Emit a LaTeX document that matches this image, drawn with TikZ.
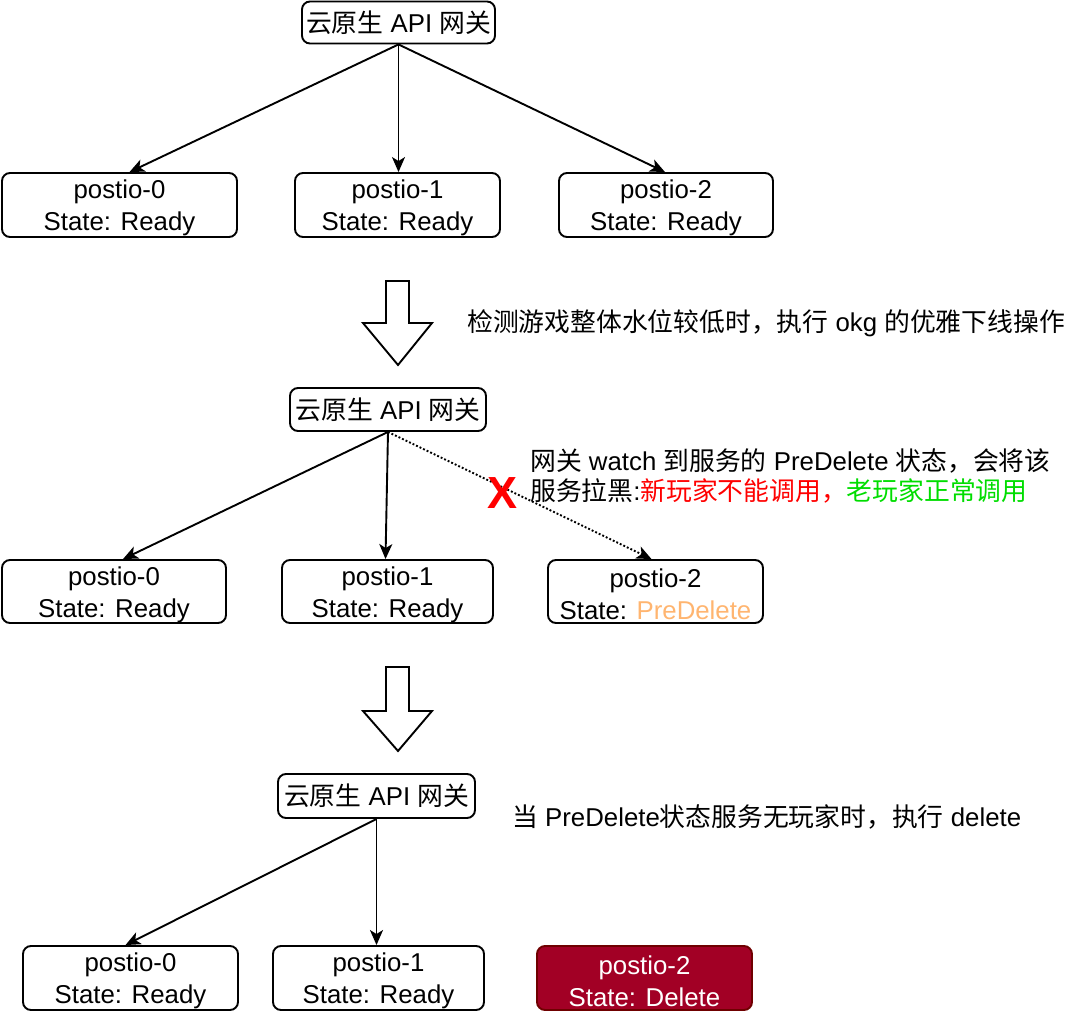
\documentclass[tikz,border=0pt]{standalone}
\usepackage{fontspec}
\setmainfont{Liberation Sans}
\newfontfamily\cjk{Noto Sans CJK SC}
\usetikzlibrary{arrows.meta,calc}
\definecolor{pdorange}{HTML}{FFB570}
\definecolor{okgreen}{HTML}{00DD00}
\definecolor{delfill}{HTML}{A20025}
\definecolor{delline}{HTML}{6F0000}
\newcommand{\up}{\rule{0pt}{25pt}}
\begin{document}
\begin{tikzpicture}[x=1pt,y=-1pt,
  every node/.style={font=\fontsize{25.8}{32}\selectfont},
  podbox/.style={draw, line width=1.9pt, rounded corners=8pt, inner sep=0pt, align=center, minimum height=64pt},
  gwbox/.style={draw, line width=1.9pt, rounded corners=8pt, inner sep=0pt, align=center, minimum height=42pt},
  conn/.style={line width=1.9pt, -{Stealth[length=15pt,width=13pt,inset=4pt]}},
  dotconn/.style={line width=1.9pt, dotted, -{Stealth[length=15pt,width=13pt,inset=4pt]}},
  bigarrow/.style={draw, line width=1.9pt, fill=white, line join=miter},
  note/.style={inner sep=0pt, align=left}
]
\useasboundingbox (0,0) rectangle (1080,1011);

% ---------- stage 1
\node[gwbox, minimum width=193pt] (g1) at (398.5,22.5) {{\cjk 云原生} API {\cjk 网关}};
\node[podbox, minimum width=235pt] (a0) at (119.5,205) {\up postio-0\\State: Ready};
\node[podbox, minimum width=205pt] (a1) at (397.5,205) {\up postio-1\\State: Ready};
\node[podbox, minimum width=214pt] (a2) at (666,205) {\up postio-2\\State: Ready};
\draw[conn] (g1.south) -- ([xshift=10pt]a0.north);
\draw[conn] (g1.south) -- (a1.north -| g1.south);
\draw[conn] (g1.south) -- ([xshift=-1pt]a2.north);

\draw[bigarrow] (386,281) -- (409,281) -- (409,323) -- (432,323) -- (398,365) -- (363,323) -- (386,323) -- cycle;
\node[note, anchor=west] (t1) at (467,323) {{\cjk 检测游戏整体水位较低时，执行} okg {\cjk 的优雅下线操作}};

% ---------- stage 2
\node[gwbox, minimum width=196pt, minimum height=43pt] (g2) at (388,409.5) {{\cjk 云原生} API {\cjk 网关}};
\node[podbox, minimum width=224pt, minimum height=63pt] (b0) at (114,591.5) {\up postio-0\\State: Ready};
\node[podbox, minimum width=211pt, minimum height=63pt] (b1) at (387.5,591.5) {\up postio-1\\State: Ready};
\node[podbox, minimum width=215pt, minimum height=63pt] (b2) at (655.5,591.5) {\up postio-2\\State: \textcolor{pdorange}{PreDelete}};
\draw[conn] (g2.south) -- ([xshift=9pt]b0.north);
\draw[conn] (g2.south) -- ([xshift=-2pt]b1.north);
\draw[dotconn] (g2.south) -- ([xshift=-4pt]b2.north);
\node[inner sep=0pt, text=red, font=\fontsize{45}{45}\selectfont\bfseries] (x) at (503,493) {X};
\node[note, anchor=north west, font=\fontsize{25.8}{30.5}\selectfont] (t2) at (530,448)
  {{\cjk 网关} watch {\cjk 到服务的} PreDelete {\cjk 状态，会将该}\\
   {\cjk 服务拉黑}:{\cjk\color{red}新玩家不能调用，}{\cjk\color{okgreen}老玩家正常调用}};

\draw[bigarrow] (386,667) -- (409,667) -- (409,711) -- (432,711) -- (398,751) -- (363,711) -- (386,711) -- cycle;

% ---------- stage 3
\node[gwbox, minimum width=197pt, minimum height=44pt] (g3) at (376.5,796) {{\cjk 云原生} API {\cjk 网关}};
\node[note, anchor=west] (t3) at (512,817) {{\cjk 当} PreDelete{\cjk 状态服务无玩家时，执行} delete};
\node[podbox, minimum width=215pt] (c0) at (130.5,978) {\up postio-0\\State: Ready};
\node[podbox, minimum width=211pt] (c1) at (378.5,978) {\up postio-1\\State: Ready};
\node[podbox, minimum width=215pt, fill=delfill, draw=delline, text=white] (c2) at (644.5,978) {\up postio-2\\State: Delete};
\draw[conn] (g3.south) -- ([xshift=-5pt]c0.north);
\draw[conn] (g3.south) -- (c1.north -| g3.south);
\end{tikzpicture}
\end{document}
